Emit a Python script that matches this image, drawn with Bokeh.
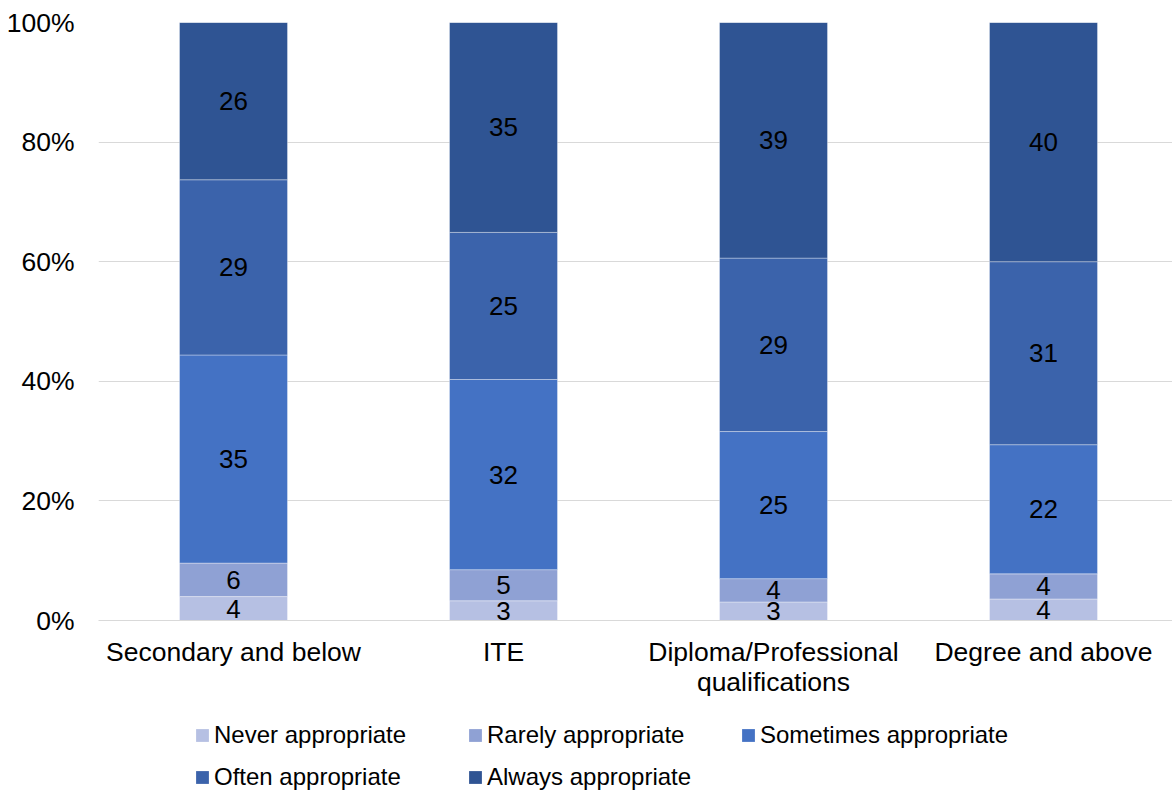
from bokeh.plotting import figure
from bokeh.layouts import column
from bokeh.models import (Range1d, FixedTicker, NumeralTickFormatter, Legend,
                          LegendItem, ColumnDataSource)
from bokeh.embed import file_html
from bokeh.resources import INLINE
from bokeh.core.properties import value

categories = ["Secondary and below", "ITE", "Diploma/Professional\nqualifications", "Degree and above"]
series = ["Never appropriate", "Rarely appropriate", "Sometimes appropriate",
          "Often appropriate", "Always appropriate"]
never = [4.0, 3.3, 3.1, 3.6]
rarely = [5.6, 5.2, 3.9, 4.2]
sometimes = [34.8, 31.8, 24.6, 21.6]
often = [29.3, 24.6, 29.0, 30.6]
always = [26.3, 35.1, 39.4, 40.0]
y_ticks = [0, 0.2, 0.4, 0.6, 0.8, 1.0]

colors = ["#b6c0e3", "#8fa1d4", "#4472c4", "#3b63ab", "#2f5493"]
FONT = "Liberation Sans"

xs = [i + 0.5 for i in range(len(categories))]
data = {"x": xs}
keys = ["never", "rarely", "sometimes", "often", "always"]
for k, vals in zip(keys, [never, rarely, sometimes, often, always]):
    data[k] = [v / 100 for v in vals]
source = ColumnDataSource(data)

p = figure(width=1172, height=720, output_backend="svg", toolbar_location=None,
           x_range=Range1d(0, 1074 / 270), y_range=Range1d(0, 1),
           min_border_left=98, min_border_right=0, min_border_top=22,
           min_border_bottom=100)
p.outline_line_color = None
p.background_fill_color = "white"
p.border_fill_color = "white"

p.vbar_stack(keys, x="x", width=0.4, source=source, color=colors,
             line_color="white", line_alpha=0.35, line_width=1)

# data labels
lx, ly, lt = [], [], []
for i, x in enumerate(xs):
    base = 0.0
    for vals in [never, rarely, sometimes, often, always]:
        v = vals[i]
        lx.append(x)
        ly.append((base + v / 2) / 100)
        lt.append(str(int(v + 0.5)))
        base += v
p.text(x=lx, y=ly, text=lt, text_align="center", text_baseline="middle",
       text_font=value(FONT), text_font_size="26px", text_color="#000000")

# axes
p.xaxis.ticker = FixedTicker(ticks=xs)
p.xaxis.major_label_overrides = {x: c for x, c in zip(xs, categories)}
p.xaxis.major_tick_line_color = None
p.xaxis.minor_tick_line_color = None
p.xaxis.axis_line_color = "#d9d9d9"
p.xaxis.major_label_text_font = FONT
p.xaxis.major_label_text_font_size = "26.5px"
p.xaxis.major_label_text_line_height = 1.0
p.xaxis.major_label_text_color = "#000000"
p.xaxis.major_label_standoff = 10
p.xgrid.grid_line_color = None

p.yaxis.ticker = FixedTicker(ticks=y_ticks)
p.yaxis.formatter = NumeralTickFormatter(format="0%")
p.yaxis.axis_line_color = None
p.yaxis.major_tick_line_color = None
p.yaxis.minor_tick_line_color = None
p.yaxis.major_label_text_font = FONT
p.yaxis.major_label_text_font_size = "26.5px"
p.yaxis.major_label_text_color = "#000000"
p.yaxis.major_label_standoff = 18
p.ygrid.grid_line_color = "#d9d9d9"
p.ygrid.grid_line_width = 1

# legend strip (separate figure below the chart); its bars lie outside its ranges
p2 = figure(width=1172, height=71, output_backend="svg", toolbar_location=None,
            x_range=Range1d(100, 101), y_range=Range1d(100, 101),
            min_border_left=0, min_border_right=0, min_border_top=0,
            min_border_bottom=0)
p2.axis.visible = False
p2.grid.visible = False
p2.outline_line_color = None
p2.border_fill_color = "white"
p2.background_fill_color = "white"
leg_renderers = p2.vbar_stack(keys, x="x", width=0.4, source=source, color=colors,
                              line_color=None)
items = [LegendItem(label=s, renderers=[r]) for s, r in zip(series, leg_renderers)]
legend = Legend(items=items, orientation="horizontal", ncols=3, location=(96, 0),
                glyph_width=16, glyph_height=16, label_standoff=4,
                label_width=240, label_height=29, spacing=13, padding=0,
                margin=0, border_line_color=None, background_fill_alpha=0,
                label_text_font=FONT, label_text_font_size="24px",
                label_text_color="#000000")
p2.add_layout(legend, "center")

open("out.html", "w").write(file_html(column(p, p2), INLINE))
